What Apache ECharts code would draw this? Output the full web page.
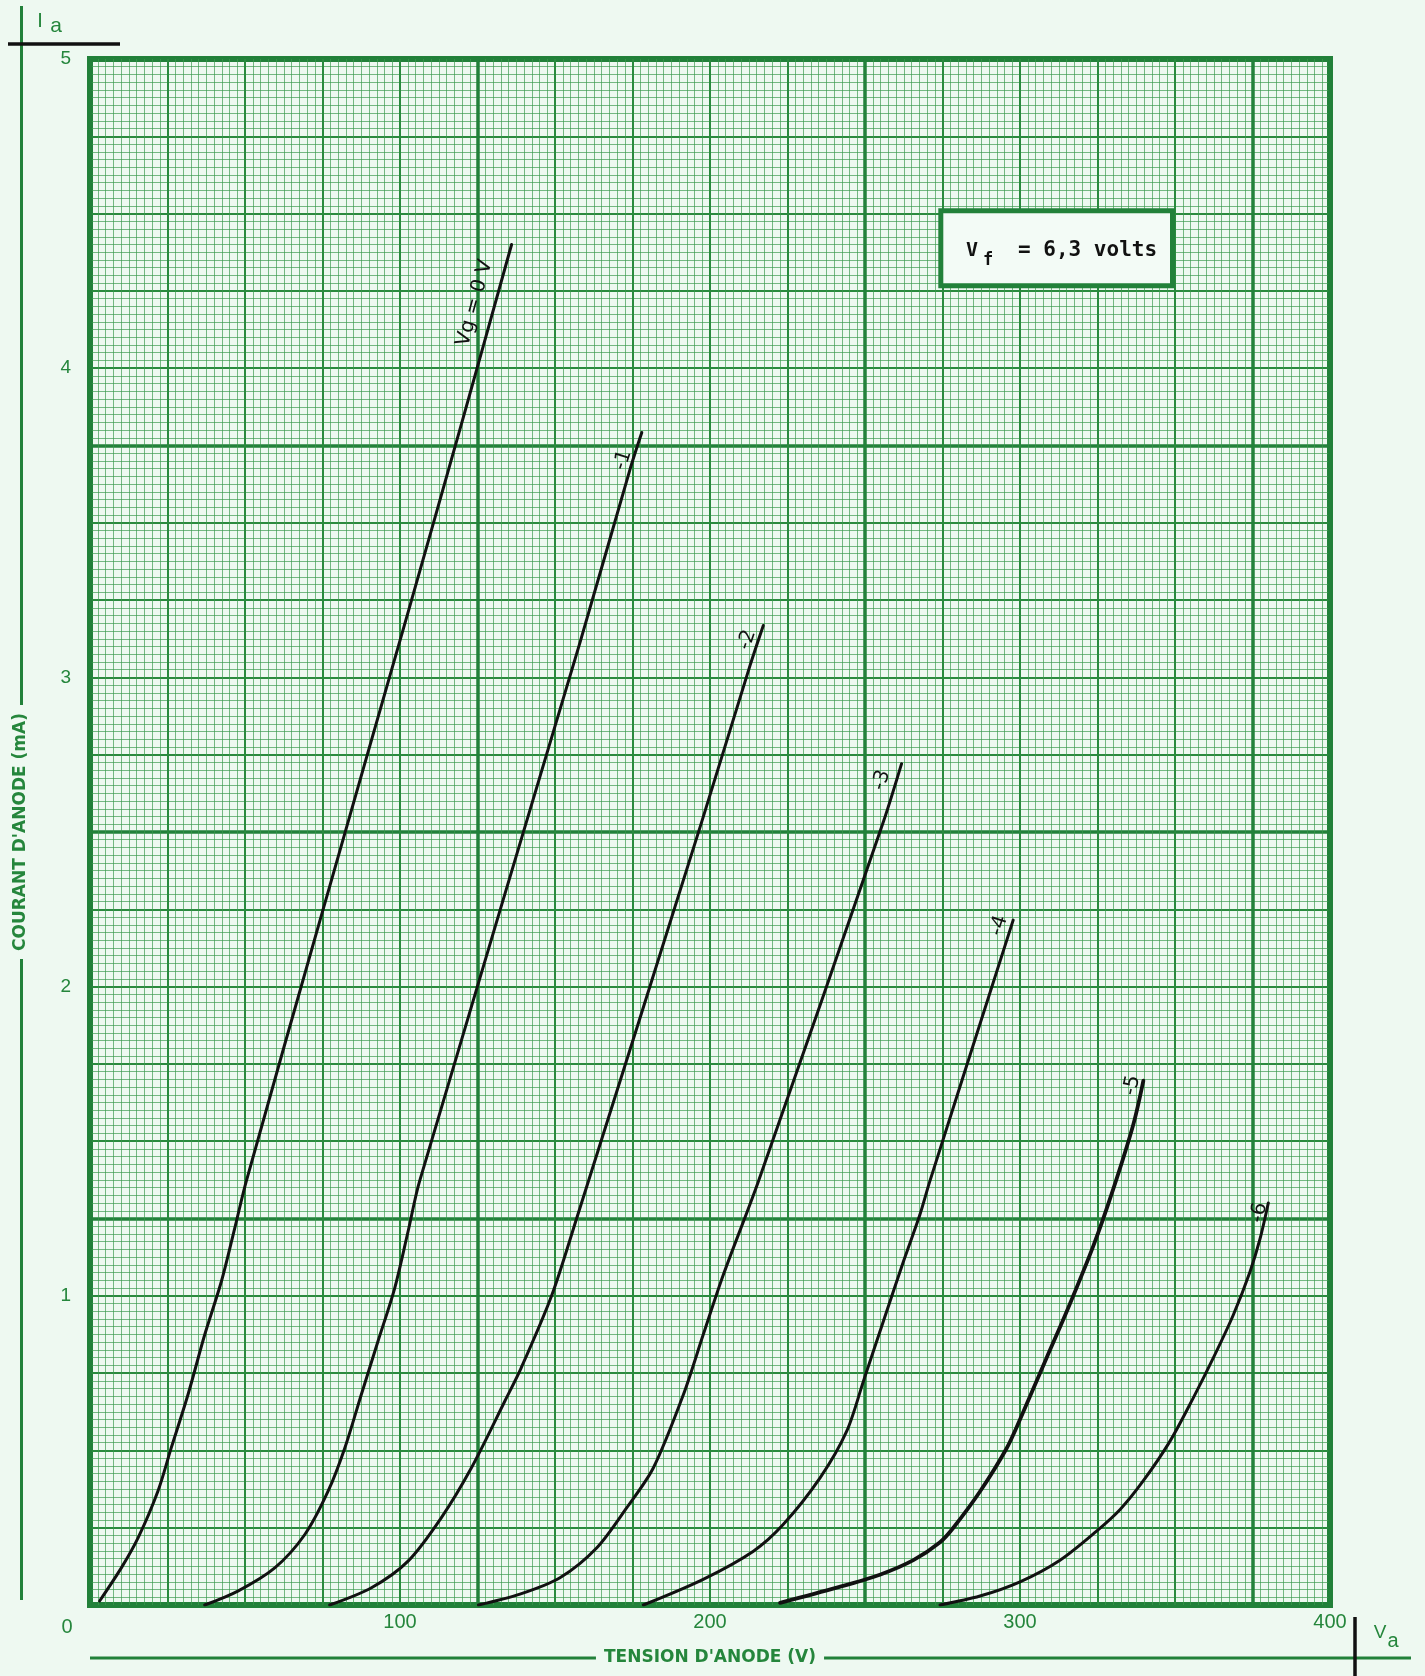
<!DOCTYPE html>
<html>
<head>
<meta charset="utf-8">
<title>Ia = f(Va)</title>
<script src="https://cdn.jsdelivr.net/npm/echarts@6/dist/echarts.min.js"></script>
<style>
  html, body { margin: 0; padding: 0; background: #eef9f1; }
  #chart { width: 1425px; height: 1676px; }
</style>
</head>
<body>
<div id="chart"></div>
<script>
// Caracteristiques Ia = f(Va), une courbe par tension de grille
const curveNames = ['Vg = 0 V', '-1', '-2', '-3', '-4', '-5', '-6'];

// [Va (V), Ia (mA)]
const vg0 = [[3.1, 0.013], [10.1, 0.12], [15.5, 0.217], [21.9, 0.368], [26.2, 0.508], [31.6, 0.68],
  [37.0, 0.874], [42.4, 1.047], [46.7, 1.219], [50.4, 1.37], [75.2, 2.25], [102.3, 3.2],
  [120.4, 3.84], [136.0, 4.40]];
const vg1 = [[37.0, 0.0], [47.7, 0.045], [59.6, 0.12], [69.3, 0.228], [76.8, 0.368], [82.2, 0.508],
  [87.5, 0.68], [92.9, 0.853], [98.3, 1.025], [102.6, 1.208], [106.3, 1.37], [158.1, 3.114],
  [174.2, 3.673], [178.0, 3.792]];
const vg2 = [[77.3, 0.0], [90.8, 0.056], [102.6, 0.142], [113.3, 0.282], [123.0, 0.443], [133.8, 0.659],
  [139.1, 0.767], [148.9, 1.0], [157.0, 1.251], [197.3, 2.532], [212.9, 3.038], [217.2, 3.168]];
const vg3 = [[125.3, 0.0], [138.7, 0.035], [151.6, 0.088], [163.5, 0.185], [173.1, 0.314], [181.7, 0.443],
  [191.4, 0.68], [197.8, 0.874], [204.3, 1.068], [215.6, 1.37], [255.9, 2.532], [261.8, 2.721]];
const vg4 = [[178.5, 0.0], [197.8, 0.083], [214.0, 0.174], [223.6, 0.26], [235.5, 0.411], [244.1, 0.562],
  [249.5, 0.724], [255.9, 0.917], [262.4, 1.111], [267.7, 1.262], [270.9, 1.37], [297.8, 2.215]];
const vg5 = [[222.6, 0.007], [240.9, 0.056], [254.8, 0.098], [265.6, 0.145], [274.2, 0.203], [278.5, 0.25],
  [287.1, 0.367], [295.7, 0.507], [300.0, 0.6], [308.6, 0.8], [315.1, 0.95], [323.6, 1.16],
  [330.1, 1.346], [336.6, 1.556], [339.8, 1.696]];
const vg6 = [[274.2, 0.0], [287.1, 0.029], [300.0, 0.075], [312.9, 0.145], [324.7, 0.239], [332.3, 0.309],
  [339.8, 0.402], [348.4, 0.53], [355.9, 0.67], [362.4, 0.8], [368.8, 0.938], [374.2, 1.078],
  [377.4, 1.183], [380.1, 1.3]];
const curves = [vg0, vg1, vg2, vg3, vg4, vg5, vg6];

const xTicks = [100, 200, 300, 400];
const yTicks = [1, 2, 3, 4, 5];

// papier millimetre : pas fin, moyen, gros
const paperX = [2.5, 25, 125];
const paperY = [0.025, 0.25, 1.25];

const GREEN = '#22813a';
const TEXT_GREEN = '#25863c';
const BG = '#eef9f1';
const paperLines = [
    { color: '#3a9a4d', width: 1, opacity: 0.68 },
    { color: '#2a8a3e', width: 2 },
    { color: GREEN, width: 3.5 }
];
// la courbe -5 est tracee un peu plus grasse sur l'original
const curveWidths = [3, 3, 3, 3, 3, 3.8, 3];

function paperAxis(step, i, isX) {
    return {
        type: 'value',
        min: 0,
        max: isX ? 400 : 5,
        interval: step,
        position: isX ? (i % 2 ? 'top' : 'bottom') : (i % 2 ? 'right' : 'left'),
        axisLine: { show: false },
        axisTick: { show: false },
        axisLabel: { show: false },
        splitLine: { show: true, lineStyle: paperLines[i] },
        silent: true
    };
}

const chart = echarts.init(document.getElementById('chart'));

const option = {
    backgroundColor: BG,
    animation: false,
    grid: {
        left: 90,
        top: 59,
        width: 1240,
        height: 1546,
        show: true,
        backgroundColor: BG,
        borderColor: GREEN,
        borderWidth: 6
    },
    xAxis: [
        {
            type: 'value',
            min: 0,
            max: 400,
            interval: 100,
            name: "TENSION D'ANODE (V)",
            nameLocation: 'middle',
            nameGap: 44,
            nameTextStyle: {
                color: TEXT_GREEN,
                fontFamily: 'DejaVu Sans',
                fontWeight: 'bold',
                fontSize: 17,
                backgroundColor: BG,
                padding: [0, 8]
            },
            axisLine: { show: false },
            axisTick: { show: false },
            splitLine: { show: false },
            axisLabel: {
                customValues: xTicks,
                color: TEXT_GREEN,
                fontFamily: 'Liberation Sans',
                fontSize: 20,
                margin: 7
            }
        },
        ...paperX.map((s, i) => paperAxis(s, i, true))
    ],
    yAxis: [
        {
            type: 'value',
            min: 0,
            max: 5,
            interval: 1,
            name: "COURANT D'ANODE (mA)",
            nameLocation: 'middle',
            nameGap: 61,
            nameRotate: 90,
            nameTextStyle: {
                color: TEXT_GREEN,
                fontFamily: 'DejaVu Sans',
                fontWeight: 'bold',
                fontSize: 17,
                backgroundColor: BG,
                padding: [0, 8]
            },
            axisLine: { show: false },
            axisTick: { show: false },
            splitLine: { show: false },
            axisLabel: {
                customValues: yTicks,
                color: TEXT_GREEN,
                fontFamily: 'Liberation Sans',
                fontSize: 19,
                margin: 19,
                padding: [5, 0, 0, 0]
            }
        },
        ...paperY.map((s, i) => paperAxis(s, i, false))
    ],
    series: curves.map((pts, i) => ({
        type: 'line',
        name: curveNames[i],
        data: pts,
        symbol: 'none',
        smooth: 0.3,
        lineStyle: { color: '#111', width: curveWidths[i], join: 'round', cap: 'round' },
        z: 5,
        silent: true
    }))
};

chart.setOption(option);

// Annotations hors donnees
function txt(text, x, y, size, fill, opts) {
    return {
        type: 'text',
        x: x,
        y: y,
        z: 10,
        style: Object.assign({
            text: text,
            fill: fill,
            fontSize: size,
            fontFamily: 'Liberation Sans',
            align: 'center',
            textAlign: 'center',
            verticalAlign: 'middle',
            textVerticalAlign: 'middle'
        }, opts || {})
    };
}

const graphics = [
    // axe vertical vert + barre noire en haut
    { type: 'line', z: -1, shape: { x1: 21.5, y1: 6, x2: 21.5, y2: 1600 }, style: { stroke: GREEN, lineWidth: 3 } },
    { type: 'line', z: 1, shape: { x1: 8, y1: 44, x2: 120, y2: 44 }, style: { stroke: '#111', lineWidth: 3.5 } },
    txt('I', 40, 21, 20, TEXT_GREEN),
    txt('a', 56, 26, 21, TEXT_GREEN),
    // axe horizontal vert + barre noire a droite
    { type: 'line', z: -1, shape: { x1: 90, y1: 1658, x2: 1411, y2: 1658 }, style: { stroke: GREEN, lineWidth: 3 } },
    { type: 'line', z: 1, shape: { x1: 1355, y1: 1617, x2: 1355, y2: 1676 }, style: { stroke: '#111', lineWidth: 3.5 } },
    txt('V', 1380, 1633, 19, TEXT_GREEN),
    txt('a', 1393, 1641, 20, TEXT_GREEN),
    txt('0', 67, 1627, 20, TEXT_GREEN),
    // cartouche Vf
    { type: 'rect', z: 8, shape: { x: 940.8, y: 210.8, width: 231.7, height: 75 },
      style: { fill: '#f3fbf6', stroke: GREEN, lineWidth: 5 } },
    txt('V', 972, 251, 20, '#111', { fontFamily: 'DejaVu Sans Mono', fontWeight: 'bold' }),
    txt('f', 988, 261, 17, '#111', { fontFamily: 'DejaVu Sans Mono', fontWeight: 'bold' }),
    txt('= 6,3 volts', 1018, 251, 21, '#111', { fontFamily: 'DejaVu Sans Mono', fontWeight: 'bold', align: 'left', textAlign: 'left' })
];

// etiquettes le long des courbes, orientees comme la courbe
const labelOffsets = [[-25, 16], [-16, 18], [-13, 5], [-17, 7], [-11, -4], [-9, -5], [-7, 0]];
curves.forEach(function (pts, i) {
    const a = chart.convertToPixel({ seriesIndex: i }, pts[pts.length - 2]);
    const b = chart.convertToPixel({ seriesIndex: i }, pts[pts.length - 1]);
    const ang = Math.atan2(a[1] - b[1], b[0] - a[0]);
    const off = labelOffsets[i];
    const t = txt(curveNames[i], b[0] + off[0], b[1] + off[1], 20, '#111',
        { fontFamily: 'DejaVu Sans', align: 'right', textAlign: 'right' });
    t.rotation = ang;
    graphics.push(t);
});

chart.setOption({ graphic: graphics });

window.addEventListener('resize', function () {
    chart.resize();
});
</script>
</body>
</html>
